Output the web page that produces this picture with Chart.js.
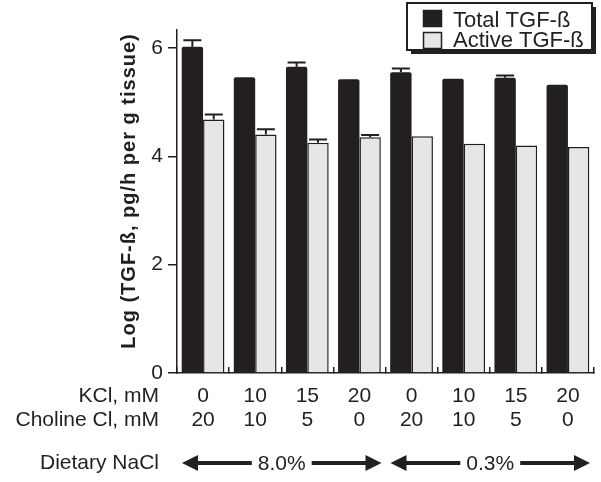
<!DOCTYPE html>
<html><head><meta charset="utf-8">
<script src="https://cdn.jsdelivr.net/npm/chart.js@4/dist/chart.umd.min.js"></script>
<style>html,body{margin:0;padding:0;background:#fff}#wrap{width:601px;height:482px}</style>
</head><body><div id="wrap"><canvas id="c" width="601" height="482"></canvas></div>
<script>
// ---- data ----
const kclLabels = ['0', '10', '15', '20', '0', '10', '15', '20'];
const cholineLabels = ['20', '10', '5', '0', '20', '10', '5', '0'];
const totalTGF = [6.02, 5.46, 5.65, 5.42, 5.55, 5.43, 5.45, 5.32];
const totalErr = [0.12, 0, 0.08, 0, 0.07, 0, 0.04, 0];
const activeTGF = [4.68, 4.40, 4.25, 4.35, 4.37, 4.23, 4.20, 4.17];
const activeErr = [0.09, 0.10, 0.06, 0.04, 0, 0, 0, 0];
const yTickValues = [0, 2, 4, 6];
const seriesNames = ['Total TGF-ß', 'Active TGF-ß'];
const rowNames = ['KCl, mM', 'Choline Cl, mM', 'Dietary NaCl'];
const naclGroups = [{ label: '8.0%', from: 0, to: 3 }, { label: '0.3%', from: 4, to: 7 }];
const yTitle = 'Log (TGF-ß, pg/h per g tissue)';

const DARK = '#231f20';
const LIGHT = '#e6e6e6';
const FONT = '"Liberation Sans", Arial, sans-serif';

const errorBars = {
  id: 'errorBars',
  afterDatasetsDraw(chart) {
    const ctx = chart.ctx, y = chart.scales.y;
    ctx.save();
    ctx.strokeStyle = DARK; ctx.lineWidth = 2;
    chart.data.datasets.forEach((ds, di) => {
      const meta = chart.getDatasetMeta(di);
      meta.data.forEach((bar, i) => {
        const e = ds.errors[i];
        if (!e) return;
        const yt = y.getPixelForValue(ds.data[i] + e);
        ctx.beginPath();
        ctx.moveTo(bar.x, bar.y); ctx.lineTo(bar.x, yt);
        ctx.moveTo(bar.x - 9, yt); ctx.lineTo(bar.x + 9, yt);
        ctx.stroke();
      });
    });
    ctx.restore();
  }
};

function arrowHead(ctx, x, y, dir) {
  ctx.beginPath();
  ctx.moveTo(x, y);
  ctx.lineTo(x - dir * 16, y - 8);
  ctx.lineTo(x - dir * 16, y + 8);
  ctx.closePath();
  ctx.fill();
}

const extras = {
  id: 'extras',
  afterDraw(chart) {
    const ctx = chart.ctx, x = chart.scales.x;
    ctx.save();
    ctx.fillStyle = DARK; ctx.strokeStyle = DARK;
    // y title
    ctx.save();
    ctx.translate(129, 191);
    ctx.rotate(-Math.PI / 2);
    ctx.font = 'bold 20px ' + FONT;
    ctx.letterSpacing = '1px';
    ctx.textAlign = 'center'; ctx.textBaseline = 'middle';
    ctx.fillText(yTitle, 0, 0);
    ctx.restore();
    // row labels
    ctx.font = '21px ' + FONT;
    ctx.textAlign = 'right'; ctx.textBaseline = 'middle';
    ctx.fillText(rowNames[0], 159, 396);
    ctx.fillText(rowNames[1], 159, 420);
    ctx.fillText(rowNames[2], 159, 463);
    // NaCl arrows
    const ay = 463;
    ctx.textAlign = 'center';
    ctx.lineWidth = 4;
    naclGroups.forEach(g => {
      const x1 = x.getPixelForValue(g.from - 0.5) + 5;
      const x2 = x.getPixelForValue(g.to + 0.5) - 4;
      const mid = (x1 + x2) / 2;
      const tw = ctx.measureText(g.label).width / 2 + 6;
      ctx.fillText(g.label, mid, ay + 1);
      ctx.beginPath();
      ctx.moveTo(x1 + 12, ay); ctx.lineTo(mid - tw, ay);
      ctx.moveTo(mid + tw, ay); ctx.lineTo(x2 - 12, ay);
      ctx.stroke();
      arrowHead(ctx, x1, ay, -1);
      arrowHead(ctx, x2, ay, 1);
    });
    // legend
    ctx.fillStyle = DARK;
    ctx.fillRect(411, 7, 185, 47);
    ctx.fillStyle = '#fff';
    ctx.fillRect(407, 3, 185, 47);
    ctx.lineWidth = 2;
    ctx.strokeRect(407, 3, 185, 47);
    chart.data.datasets.forEach((ds, i) => {
      const sy = i === 0 ? 10 : 32;
      ctx.fillStyle = ds.backgroundColor;
      ctx.fillRect(423, sy, 19, 17);
      ctx.lineWidth = 1.5;
      ctx.strokeRect(423.5, sy + 0.5, 18, 16);
      ctx.fillStyle = DARK;
      ctx.font = '22px ' + FONT;
      ctx.textAlign = 'left'; ctx.textBaseline = 'alphabetic';
      ctx.fillText(ds.label, 453, i === 0 ? 27 : 47);
    });
    ctx.restore();
  }
};

new Chart(document.getElementById('c'), {
  type: 'bar',
  data: {
    labels: kclLabels.map((k, i) => [k, cholineLabels[i]]),
    datasets: [
      { label: seriesNames[0], data: totalTGF, errors: totalErr, backgroundColor: DARK, borderColor: DARK, borderWidth: 0, borderRadius: 2, borderSkipped: 'bottom' },
      { label: seriesNames[1], data: activeTGF, errors: activeErr, backgroundColor: LIGHT, borderColor: DARK, borderWidth: 1.5, borderSkipped: 'bottom' }
    ]
  },
  options: {
    responsive: false,
    devicePixelRatio: 1,
    animation: false,
    layout: { padding: { left: 0, top: 30, right: 7, bottom: 0 } },
    datasets: { bar: { categoryPercentage: 0.82, barPercentage: 1.0 } },
    plugins: { legend: { display: false }, tooltip: { enabled: false } },
    scales: {
      x: {
        offset: true,
        grid: { display: true, drawOnChartArea: false, drawTicks: true, tickLength: -6, offset: true, color: DARK, lineWidth: 1.5 },
        border: { display: true, color: DARK, width: 1.5 },
        ticks: { color: DARK, font: { size: 21, family: FONT, lineHeight: 24 / 21 }, padding: 17, maxRotation: 0, autoSkip: false },
        afterFit(s) { s.height = 109; }
      },
      y: {
        min: 0, max: 6.33,
        grid: { display: true, drawOnChartArea: false, drawTicks: true, tickLength: 9, color: DARK, lineWidth: 1.5 },
        border: { display: true, color: DARK, width: 1.5 },
        ticks: { color: DARK, font: { size: 21, family: FONT }, padding: 5 },
        afterBuildTicks(s) { s.ticks = yTickValues.map(v => ({ value: v })); },
        afterFit(s) { s.width = 177; }
      }
    }
  },
  plugins: [errorBars, extras]
});
</script></body></html>
